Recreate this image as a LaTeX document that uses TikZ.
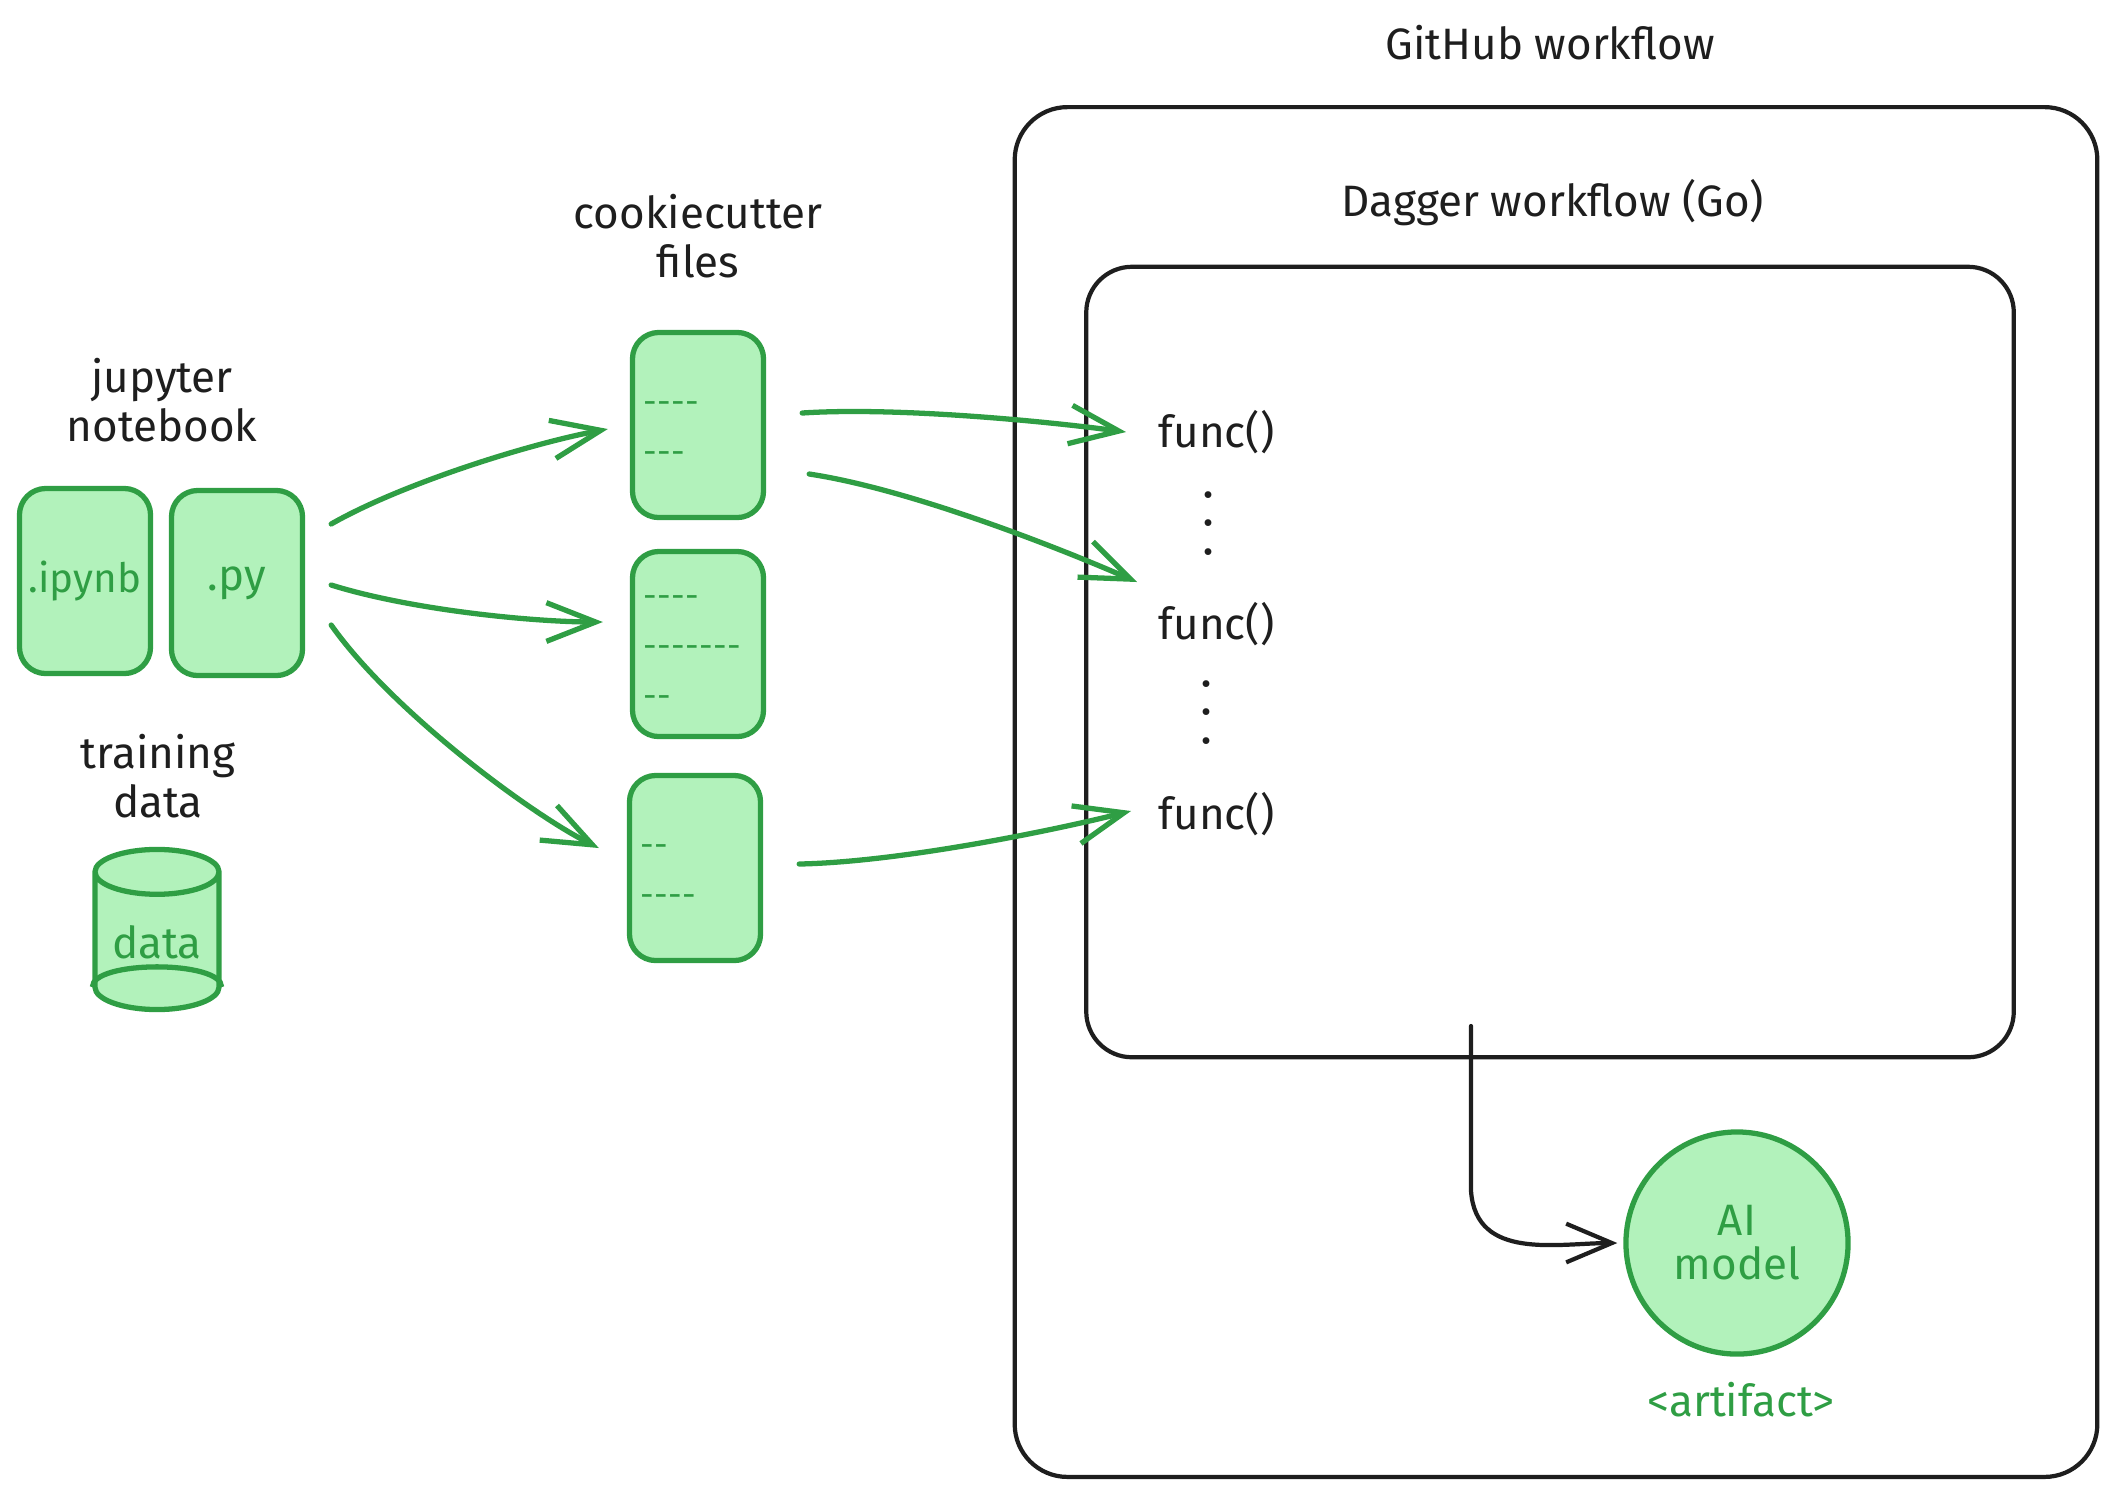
\documentclass[tikz,border=0pt]{standalone}
\usepackage{fontspec}
\setmainfont{Fira Sans}
\usepackage{xcolor}
\usetikzlibrary{arrows.meta,shapes.geometric}

\definecolor{exgreen}{HTML}{2F9E44}
\definecolor{exfill}{HTML}{B2F2BB}
\definecolor{exblack}{HTML}{1E1E1E}

\newcommand\hy{\mbox{\strut\fontsize{9.6}{14.2}\selectfont\raisebox{-0.9pt}{-}}\kern0.1pt}

\begin{document}
\begin{tikzpicture}[x=0.01cm,y=-0.01cm,line width=1pt,
  every node/.style={font=\fontsize{12.5}{14}\selectfont,text=exblack},
  file/.style={draw=exgreen,fill=exfill,line width=1.5pt,rounded corners=7.5pt,minimum width=1.31cm,minimum height=1.85cm,text=exgreen,inner sep=0pt},
  cookie/.style={file,align=left,text width=1.09cm,inner xsep=0.11cm,font=\fontsize{12.5}{14.2}\selectfont},
  frame/.style={draw=exblack,line width=1.2pt,inner sep=0pt},
  dots/.style={align=center,inner sep=0pt,font=\fontsize{7}{8}\bfseries},
  garrow/.style={draw=exgreen,line width=1.5pt,line cap=round,-{Straight Barb[length=14pt,width=11pt]}},
  barrow/.style={draw=exblack,line width=1.2pt,line cap=round,-{Straight Barb[length=13pt,width=11pt]}}]

\useasboundingbox (0,0) rectangle (2116,1496);

% workflow frames
\node[frame,rounded corners=15pt,minimum width=10.82cm,minimum height=13.69cm] (GitHubBox) at (1556,792) {};
\node[frame,rounded corners=13pt,minimum width=9.27cm,minimum height=7.9cm] (DaggerBox) at (1550,662) {};

\node (GitHubTitle) at (1550,43) {GitHub workflow};
\node (DaggerTitle) at (1553,203) {Dagger workflow (Go)};

% inputs
\node[align=center] (NotebookLabel) at (162,400) {jupyter\\notebook};
\node[file,font=\fontsize{11.5}{14}\selectfont] (FileIpynb) at (85,581) {.ipynb};
\node[file] (FilePy) at (237,583) {.py};

\node[align=center] (TrainingLabel) at (158,776) {training\\data};
\node[cylinder,shape border rotate=90,aspect=0.5,draw=exgreen,fill=exfill,line width=1.5pt,minimum width=1.24cm,minimum height=1.6cm,text=exgreen,inner sep=0pt] (DataStore) at (157,942) {data};
\draw[draw=exgreen,line width=1.5pt] (DataStore.before bottom) .. controls +(0,-27) and +(0,-27) .. (DataStore.after bottom);

% cookiecutter
\node[align=center] (CookieLabel) at (698,236) {cookiecutter\\files};
\node[cookie] (CookieA) at (698,425) {\hy\hy\hy\hy\\\hy\hy\hy};
\node[cookie] (CookieB) at (698,644) {\hy\hy\hy\hy\\\hy\hy\hy\hy\hy\hy\hy\\\hy\hy};
\node[cookie] (CookieC) at (695,868) {\hy\hy\\\hy\hy\hy\hy};

% functions
\node[anchor=west,inner sep=0pt] (FuncA) at (1157,432) {func()};
\node[dots] (DotsA) at (1208,526) {•\\•\\•};
\node[anchor=west,inner sep=0pt] (FuncB) at (1157,624) {func()};
\node[dots] (DotsB) at (1206,715) {•\\•\\•};
\node[anchor=west,inner sep=0pt] (FuncC) at (1157,814) {func()};

% artifact
\coordinate (DaggerOut) at (1471,1026);
\node[circle,draw=exgreen,fill=exfill,line width=1.5pt,minimum size=2.22cm,align=center,text=exgreen,inner sep=0pt,font=\fontsize{12.5}{12.5}\selectfont] (AiModel) at (1737,1243) {AI\\model};
\node[text=exgreen] (ArtifactLabel) at (1741,1400) {<artifact>};

\draw[garrow] ([shift={(26,-59)}]FilePy.east) .. controls +(70,-40) and +(-80,15) .. ([shift={(-22,4)}]CookieA.west);
\draw[garrow] ([shift={(26,2)}]FilePy.east) .. controls +(80,25) and +(-70,0) .. ([shift={(-27,-22)}]CookieB.west);
\draw[garrow] ([shift={(26,42)}]FilePy.east) .. controls +(60,85) and +(-70,-35) .. ([shift={(-28,-20)}]CookieC.west);

\draw[garrow] ([shift={(36,-12)}]CookieA.east) .. controls +(90,-6) and +(-90,-12) .. ([xshift=-0.31cm]FuncA.west);
\draw[garrow] ([shift={(43,49)}]CookieA.east) .. controls +(100,15) and +(-80,-35) .. ([shift={(-20,-42)}]FuncB.west);
\draw[garrow] ([shift={(36,-4)}]CookieC.east) .. controls +(100,-2) and +(-80,20) .. ([shift={(-26,-3)}]FuncC.west);

\draw[barrow] (DaggerOut) -- ++(0,165) .. controls +(5,70) and +(-60,0) .. ([xshift=-0.06cm]AiModel.west);

\end{tikzpicture}
\end{document}
